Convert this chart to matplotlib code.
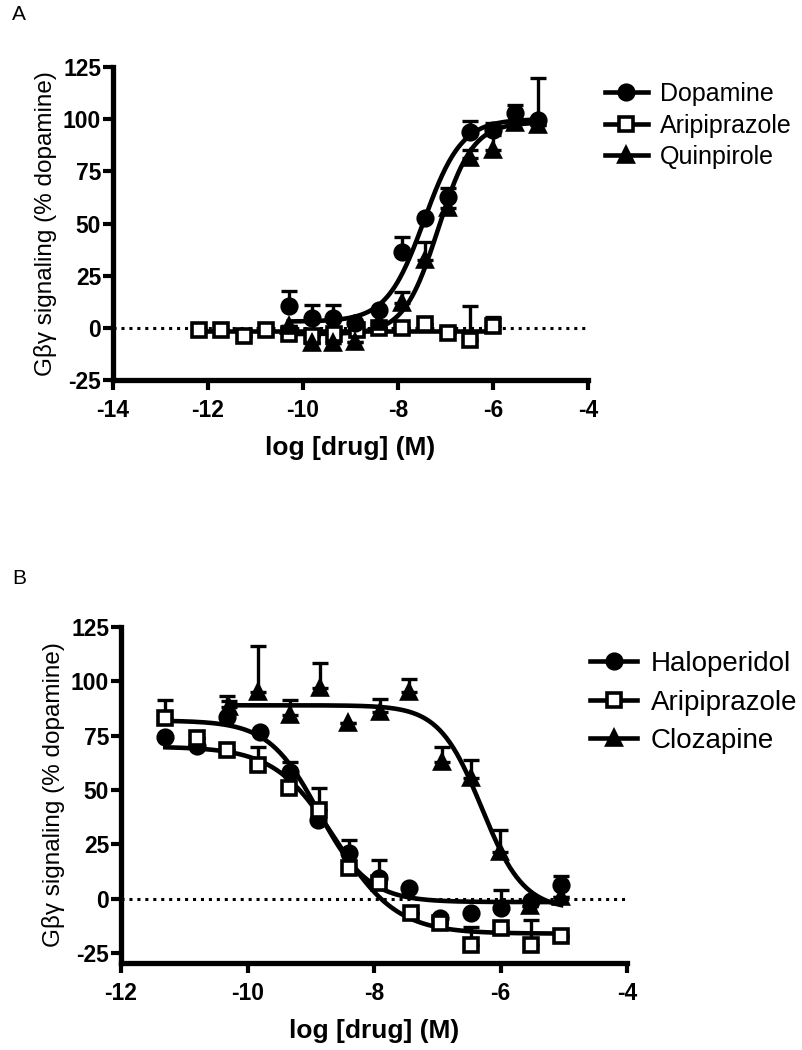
import numpy as np
import matplotlib
matplotlib.use('Agg')
import matplotlib.pyplot as plt

plt.rcParams['font.family'] = ['Liberation Sans', 'DejaVu Sans']
plt.rcParams['axes.unicode_minus'] = False

# ---------- Panel A (agonists) ----------
a_dopa_x = [-10.3, -9.82, -9.36, -8.91, -8.41, -7.92, -7.43, -6.94, -6.48, -6.0, -5.54, -5.05]
a_dopa_y = [10.5, 4.6, 4.6, 2.2, 8.6, 36.5, 52.5, 62.9, 94.0, 95.0, 102.8, 99.6]
a_dopa_err = [7.0, 6.5, 6.5, 0.0, 0.0, 7.0, 0.0, 4.0, 5.0, 3.0, 4.0, 20.0]

a_arip_x = [-12.2, -11.73, -11.25, -10.77, -10.29, -9.82, -9.34, -8.86, -8.39, -7.91, -7.43, -6.95, -6.48, -6.0]
a_arip_y = [-1.0, -1.0, -4.0, -1.0, -3.0, -4.0, -3.0, -1.0, 0.0, 0.0, 2.0, -2.5, -5.7, 0.8]
a_arip_err = [0.5, 0.5, 0.0, 0.5, 0.0, 0.0, 0.0, 0.0, 0.0, 0.0, 0.0, 0.0, 16.0, 4.5]

a_quin_x = [-10.3, -9.82, -9.36, -8.91, -8.41, -7.92, -7.43, -6.94, -6.48, -6.0, -5.54, -5.05]
a_quin_y = [1.0, -7.3, -7.3, -6.6, 3.0, 11.8, 32.6, 57.3, 81.3, 85.2, 98.0, 97.0]
a_quin_err = [0.0, 0.0, 0.0, 0.0, 0.0, 5.6, 8.4, 5.0, 4.0, 7.0, 0.0, 0.0]

# fitted curves (bottom, top, logEC50, hill)
a_dopa_fit = (3.0, 100.0, -7.45, 1.1)
a_quin_fit = (-3.0, 98.5, -7.15, 1.2)
a_arip_fit = (-1.5, -1.5, -9.0, 1.0)

# ---------- Panel B (antagonists) ----------
b_halo_x = [-11.3, -10.8, -10.33, -9.8, -9.33, -8.88, -8.4, -7.92, -7.44, -6.95, -6.46, -6.0, -5.52, -5.04]
b_halo_y = [74.6, 70.3, 83.8, 76.9, 58.5, 36.3, 21.0, 9.5, 4.9, -9.0, -6.6, -4.3, -1.2, 6.4]
b_halo_err = [0.0, 0.0, 9.5, 0.0, 4.5, 0.0, 6.0, 8.4, 0.0, 0.0, 0.0, 8.4, 0.0, 4.0]

b_arip_x = [-11.3, -10.8, -10.33, -9.83, -9.35, -8.87, -8.4, -7.92, -7.42, -6.95, -6.46, -6.0, -5.52, -5.05]
b_arip_y = [83.0, 73.8, 68.5, 61.6, 50.9, 40.9, 14.1, 7.2, -6.6, -11.0, -21.1, -13.5, -21.1, -17.3]
b_arip_err = [8.5, 0.0, 0.0, 8.0, 0.0, 10.0, 0.0, 0.0, 0.0, 0.0, 8.3, 0.0, 11.4, 0.0]

b_cloz_x = [-10.3, -9.83, -9.33, -8.86, -8.41, -7.91, -7.44, -6.93, -6.46, -6.01, -5.54, -5.04]
b_cloz_y = [88.0, 95.3, 84.6, 96.8, 81.0, 86.0, 95.3, 63.0, 55.5, 21.7, -3.5, 1.0]
b_cloz_err = [3.0, 21.0, 7.0, 11.5, 0.0, 6.0, 6.0, 7.0, 8.5, 10.0, 0.0, 0.0]

b_halo_fit = (-1.5, 82.0, -8.88, -1.1)
b_arip_fit = (-16.0, 70.0, -8.6, -0.9)
b_cloz_fit = (-5.0, 89.0, -6.3, -1.3)


def logistic(x, fit):
    bottom, top, logec50, hill = fit
    return bottom + (top - bottom) / (1 + 10 ** ((logec50 - x) * hill))


def draw_series(ax, x, y, err, fit, marker, face, label):
    x = np.array(x)
    y = np.array(y)
    err = np.array(err)
    ax.errorbar(x, y, yerr=[np.zeros_like(err), err], fmt='none', ecolor='black',
                elinewidth=2.4, capsize=6, capthick=2.4, zorder=3)
    xs = np.linspace(x.min(), x.max(), 300)
    ax.plot(xs, logistic(xs, fit), color='black', lw=3.3, zorder=4)
    ax.plot(x, y, linestyle='none', marker=marker, markersize=10.5,
            markerfacecolor=face, markeredgecolor='black', markeredgewidth=2.6, zorder=5)
    # legend proxy
    ax.plot([], [], color='black', lw=3.3, marker=marker, markersize=10.5,
            markerfacecolor=face, markeredgecolor='black', markeredgewidth=2.6, label=label)


def style_axis(ax, xticks):
    for s in ['top', 'right']:
        ax.spines[s].set_visible(False)
    for s in ['left', 'bottom']:
        ax.spines[s].set_linewidth(3.8)
    ax.tick_params(width=3, length=7.5, labelsize=16.5)
    ax.tick_params(axis='x', pad=6)
    ax.tick_params(axis='y', pad=1)
    ax.set_xticks(xticks)
    ax.set_yticks([-25, 0, 25, 50, 75, 100, 125])
    for lab in ax.get_xticklabels() + ax.get_yticklabels():
        lab.set_fontweight('bold')
    ax.axhline(0, color='black', lw=2.2, ls=(0, (1, 1.6)), zorder=1)
    ax.set_ylabel('G\u03b2\u03b3 signaling (% dopamine)', fontsize=17.5, labelpad=4)
    ax.set_xlabel('log [drug] (M)', fontsize=19, fontweight='bold', labelpad=10)


fig = plt.figure(figsize=(8.02, 10.5), dpi=100)

axA = fig.add_axes([113 / 802, 1 - 380 / 1050, 475 / 802, 313 / 1050])
draw_series(axA, a_arip_x, a_arip_y, a_arip_err, a_arip_fit, 's', 'white', 'Aripiprazole')
draw_series(axA, a_quin_x, a_quin_y, a_quin_err, a_quin_fit, '^', 'black', 'Quinpirole')
draw_series(axA, a_dopa_x, a_dopa_y, a_dopa_err, a_dopa_fit, 'o', 'black', 'Dopamine')
axA.set_xlim(-14, -4)
axA.set_ylim(-25, 125)
style_axis(axA, [-14, -12, -10, -8, -6, -4])
hA, lA = axA.get_legend_handles_labels()
orderA = [lA.index('Dopamine'), lA.index('Aripiprazole'), lA.index('Quinpirole')]
axA.legend([hA[i] for i in orderA], [lA[i] for i in orderA], loc='upper left',
           bbox_to_anchor=(605 / 802, 1 - 82 / 1050), bbox_transform=fig.transFigure,
           frameon=False, fontsize=18, handlelength=1.7, handletextpad=0.5,
           labelspacing=0.3, borderaxespad=0, borderpad=0)

axB = fig.add_axes([121 / 802, 1 - 963 / 1050, 506 / 802, 336 / 1050])
draw_series(axB, b_cloz_x, b_cloz_y, b_cloz_err, b_cloz_fit, '^', 'black', 'Clozapine')
draw_series(axB, b_halo_x, b_halo_y, b_halo_err, b_halo_fit, 'o', 'black', 'Haloperidol')
draw_series(axB, b_arip_x, b_arip_y, b_arip_err, b_arip_fit, 's', 'white', 'Aripiprazole')
axB.set_xlim(-12, -4)
axB.set_ylim(-29.5, 125)
style_axis(axB, [-12, -10, -8, -6, -4])
hB, lB = axB.get_legend_handles_labels()
orderB = [lB.index('Haloperidol'), lB.index('Aripiprazole'), lB.index('Clozapine')]
axB.legend([hB[i] for i in orderB], [lB[i] for i in orderB], loc='upper left',
           bbox_to_anchor=(590 / 802, 1 - 651 / 1050), bbox_transform=fig.transFigure,
           frameon=False, fontsize=20, handlelength=1.7, handletextpad=0.5,
           labelspacing=0.45, borderaxespad=0, borderpad=0)

fig.text(12 / 802, 1 - 15 / 1050, 'A', fontsize=15, va='center', ha='left')
fig.text(12 / 802, 1 - 578 / 1050, 'B', fontsize=15, va='center', ha='left')

fig.savefig('out.png', dpi=100)
